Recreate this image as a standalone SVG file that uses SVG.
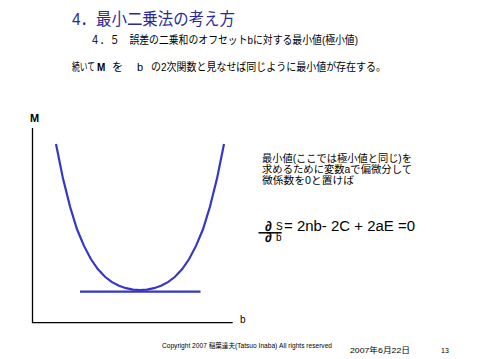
<svg xmlns="http://www.w3.org/2000/svg" width="479" height="359" viewBox="0 0 479 359">
<style>
text{font-family:"Liberation Sans","Noto Sans CJK JP",sans-serif;fill:#000}
.title{font-size:17px;fill:#2b2b96}
.t11{font-size:11px}
.t10{font-size:10px}
.eq{font-size:14px}
.small{font-size:6.5px}
.axis{stroke:#000;stroke-width:1.3;fill:none}
.curve{stroke:#3636c8;stroke-width:2.2;fill:none}
</style>
<rect width="479" height="359" fill="#fff"/>
<g id="title">
<text class="title" x="72" y="25" textLength="163" lengthAdjust="spacingAndGlyphs">4．最小二乗法の考え方</text>
</g>
<g id="subtitle">
<text class="t11" x="90" y="44" textLength="268" lengthAdjust="spacingAndGlyphs">４．５　誤差の二乗和のオフセットbに対する最小値(極小値)</text>
</g>
<g id="statement">
<text class="t11" transform="translate(72,71) scale(0.7,1)">続いて</text>
<text x="97" y="71" font-weight="bold" font-size="10">M</text>
<text class="t11" x="112" y="71">を</text>
<text class="t11" x="137" y="71">b</text>
<text class="t11" x="151" y="71" textLength="235" lengthAdjust="spacingAndGlyphs">の2次関数と見なせば同じように最小値が存在する。</text>
</g>
<g id="graph">
<text x="30" y="122" font-size="11" font-weight="bold">M</text>
<text x="240" y="323" font-size="10">b</text>
<polyline class="axis" points="32.5,128 32.5,322.7 232.7,322.7"/>
<polyline class="curve" points="56,144 63,178.6 70,206.5 77,229.3 84,245.9 91,259.3 98,269.3 105,276.8 112,282.1 119,285.8 126,288.2 133,289.6 140,290 147,289.6 154,288.2 161,285.8 168,282.1 175,276.8 182,269.3 189,259.3 196,245.9 203,229.3 210,206.5 217,178.6 224,144"/>
<line class="curve" x1="80" y1="291.7" x2="200.5" y2="291.7"/>
</g>
<g id="explanation">
<text class="t10" x="262" y="162" textLength="150" lengthAdjust="spacingAndGlyphs">最小値(ここでは極小値と同じ)を</text>
<text class="t10" x="262" y="173" textLength="150" lengthAdjust="spacingAndGlyphs">求めるために変数aで偏微分して</text>
<text class="t10" x="262" y="184" textLength="92" lengthAdjust="spacingAndGlyphs">微係数を0と置けば</text>
</g>
<g id="equation">
<text font-size="14" font-weight="bold"><tspan x="265" y="231">∂</tspan><tspan x="276" y="230" font-size="10" font-weight="normal">S</tspan><tspan x="265" y="242">∂</tspan><tspan x="276" y="241" font-size="10" font-weight="normal">b</tspan></text>
<line x1="258.5" y1="232.8" x2="281.7" y2="232.8" stroke="#000" stroke-width="1.5"/>
<text class="eq" x="284" y="231" textLength="131" lengthAdjust="spacingAndGlyphs">= 2nb- 2C + 2aE =0</text>
</g>
<g id="footer">
<text class="small" x="162" y="348" textLength="170" lengthAdjust="spacingAndGlyphs">Copyright 2007 稲葉達夫(Tatsuo Inaba)   All rights reserved</text>
<text x="350" y="353" font-size="8" textLength="60" lengthAdjust="spacingAndGlyphs">2007年6月22日</text>
<text x="441" y="353" font-size="7">13</text>
</g>
</svg>
